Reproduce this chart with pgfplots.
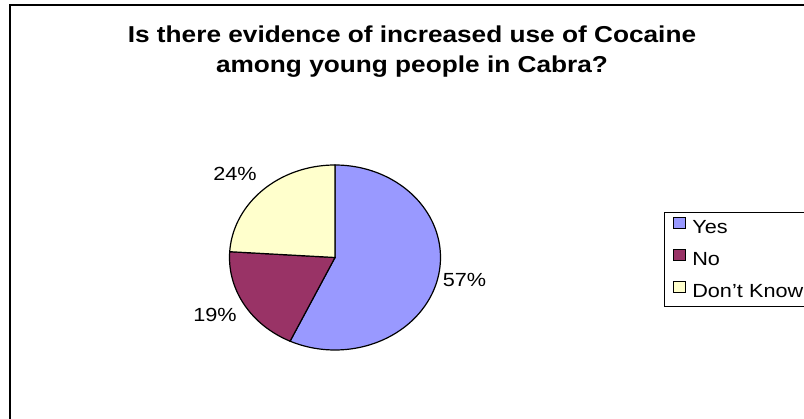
\documentclass[border=0pt]{standalone}
\usepackage{fontspec}
\setmainfont{Liberation Sans}[FakeStretch=1.14]
\usepackage{pgfplots}
\pgfplotsset{compat=1.18}
\definecolor{cyes}{HTML}{9999FF}
\definecolor{cno}{HTML}{993366}
\definecolor{cdk}{HTML}{FFFFCC}
% data (percent)
\def\vYes{57}
\def\vNo{19}
\def\vDK{24}
% pie geometry in pixel units
\def\cx{335}
\def\cy{257.5}
\def\rx{105.5}
\def\ry{92.5}
\begin{document}
\begin{tikzpicture}
\pgfmathsetmacro\aA{90}
\pgfmathsetmacro\aB{90-3.6*\vYes}
\pgfmathsetmacro\aC{\aB-3.6*\vNo}
\pgfmathsetmacro\aD{\aC-3.6*\vDK}
\begin{axis}[
  scale only axis, width=804pt, height=419pt,
  xmin=0, xmax=804, ymin=0, ymax=419, y dir=reverse,
  hide axis, clip=false,
  legend cell align=left,
  legend image code/.code={\draw[#1,line width=0.8pt] (0pt,0.5pt) rectangle (12pt,11pt);},
  legend style={at={(axis cs:664,212)}, anchor=north west, draw=black, line width=1pt,
    inner xsep=8pt, inner ysep=5pt, row sep=11.5pt, column sep=7pt,
    font=\fontsize{19}{19}\selectfont,
    nodes={inner sep=0pt, text height=14pt, text depth=4pt},
    /tikz/every even column/.append style={text width=140pt}},
]
\addplot[fill=cyes, draw=black, line width=1.2pt, domain=\aB:\aA, samples=120, variable=\t]
  ({\cx+\rx*cos(\t)},{\cy-\ry*sin(\t)}) -- (axis cs:\cx,\cy) -- cycle;
\addlegendentry{Yes}
\addplot[fill=cno, draw=black, line width=1.2pt, domain=\aC:\aB, samples=60, variable=\t]
  ({\cx+\rx*cos(\t)},{\cy-\ry*sin(\t)}) -- (axis cs:\cx,\cy) -- cycle;
\addlegendentry{No}
\addplot[fill=cdk, draw=black, line width=1.2pt, domain=\aD:\aC, samples=60, variable=\t]
  ({\cx+\rx*cos(\t)},{\cy-\ry*sin(\t)}) -- (axis cs:\cx,\cy) -- cycle;
\addlegendentry{Don't Know}
% frame
\draw[line width=1.6pt] (axis cs:10,430) -- (axis cs:10,5) -- (axis cs:830,5);
% title
\node[anchor=base, font=\fontsize{23}{23}\selectfont\bfseries] at (axis cs:412,43) {Is there evidence of increased use of Cocaine};
\node[anchor=base, font=\fontsize{23}{23}\selectfont\bfseries] at (axis cs:412,73) {among young people in Cabra?};
% data labels
\node[anchor=base, font=\fontsize{19}{19}\selectfont] at (axis cs:464.5,287) {\vYes\%};
\node[anchor=base, font=\fontsize{19}{19}\selectfont] at (axis cs:215,322) {\vNo\%};
\node[anchor=base, font=\fontsize{19}{19}\selectfont] at (axis cs:235,181) {\vDK\%};
\end{axis}
\pgfresetboundingbox
\path[use as bounding box] (current axis.south west) rectangle (current axis.north east);
\end{tikzpicture}
\end{document}
